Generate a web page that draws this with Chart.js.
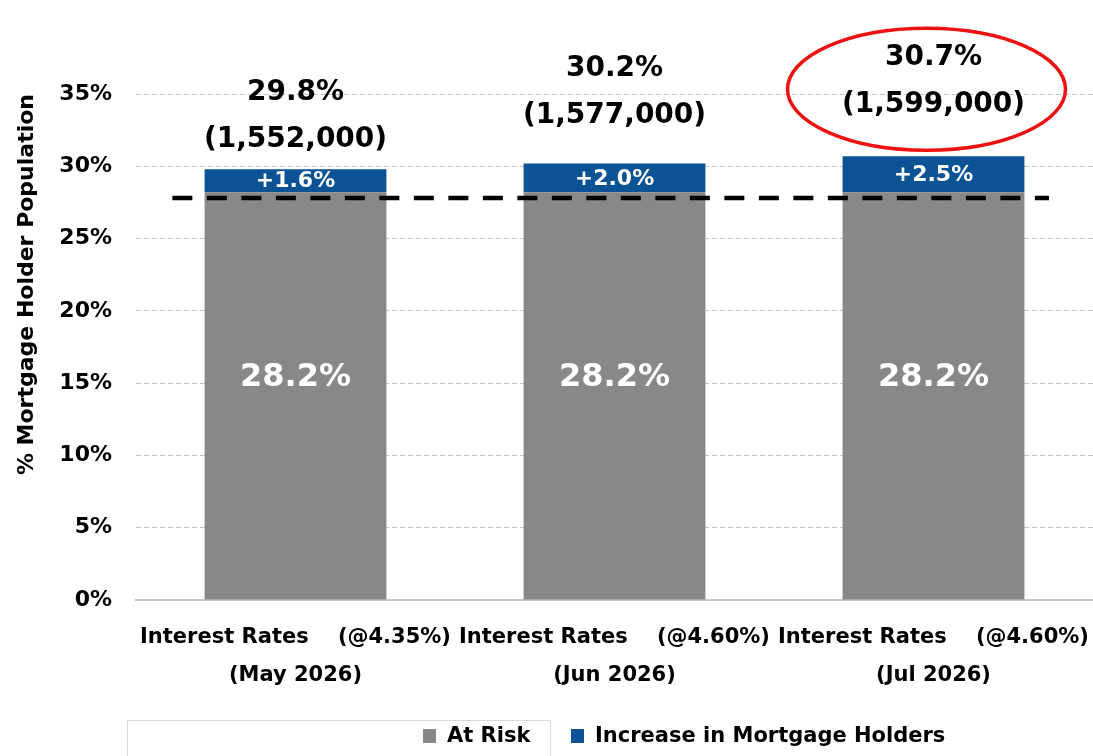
<!DOCTYPE html>
<html>
<head>
<meta charset="utf-8">
<script src="https://cdn.jsdelivr.net/npm/chart.js@4/dist/chart.umd.min.js"></script>
<style>
  html, body { margin: 0; padding: 0; background: #ffffff; }
  #wrap { width: 1093px; height: 756px; position: relative; }
</style>
</head>
<body>
<div id="wrap"><canvas id="c"></canvas></div>
<script>
// ---- data ----
const categoryLine1 = ["Interest Rates    (@4.35%)", "Interest Rates    (@4.60%)", "Interest Rates    (@4.60%)"];
const categoryLine2 = ["(May 2026)", "(Jun 2026)", "(Jul 2026)"];
const atRisk = [28.2, 28.2, 28.2];
const increase = [1.6, 2.0, 2.5];
const totals = [29.8, 30.2, 30.7];
const holders = ["(1,552,000)", "(1,577,000)", "(1,599,000)"];
const thresholdValue = 27.8;
const thresholdSpan = [-0.386, 2.362];
const seriesNames = ["At Risk", "Increase in Mortgage Holders"];
const yMin = 0, yMax = 35, yStep = 5;
const highlightIndex = 2;

// ---- styles ----
const FONT = "'DejaVu Sans', sans-serif";
const GRAY = "#888888";
const BLUE = "#0B5394";

const labels = categoryLine1.map((l, i) => [l, categoryLine2[i]]);

const labelsPlugin = {
  id: 'customLabels',
  afterDatasetsDraw(chart) {
    const ctx = chart.ctx;
    const grayMeta = chart.getDatasetMeta(0);
    const blueMeta = chart.getDatasetMeta(1);
    const topOffsets = [29, 48, 51];
    ctx.save();
    ctx.textAlign = 'center';
    ctx.textBaseline = 'middle';
    grayMeta.data.forEach((bar, i) => {
      ctx.fillStyle = '#ffffff';
      ctx.font = "bold 32px " + FONT;
      ctx.fillText(atRisk[i].toFixed(1) + '%', bar.x, (bar.y + bar.base) / 2 - 18);
    });
    blueMeta.data.forEach((bar, i) => {
      ctx.fillStyle = '#ffffff';
      ctx.font = "bold 22px " + FONT;
      ctx.fillText('+' + increase[i].toFixed(1) + '%', bar.x, (bar.y + bar.base) / 2 + 1);
      const yTop = chart.scales.y.getPixelForValue(totals[i]);
      const y2 = yTop - topOffsets[i];
      const y1 = y2 - 47;
      ctx.fillStyle = '#000000';
      ctx.font = "bold 28px " + FONT;
      ctx.fillText(totals[i].toFixed(1) + '%', bar.x, y1);
      ctx.fillText(holders[i], bar.x, y2);
      if (i === highlightIndex) {
        ctx.beginPath();
        ctx.strokeStyle = '#EE1111';
        ctx.lineWidth = 3.5;
        ctx.ellipse(bar.x - 7, y1 + 31, 139, 61, 0, 0, Math.PI * 2);
        ctx.stroke();
      }
    });
    ctx.restore();
  },
  afterDraw(chart) {
    const ctx = chart.ctx;
    ctx.save();
    ctx.strokeStyle = '#d9d9d9';
    ctx.lineWidth = 1;
    ctx.strokeRect(127.5, 720.5, 423, 50);
    const items = [
      { label: seriesNames[0], color: GRAY, x: 423 },
      { label: seriesNames[1], color: BLUE, x: 571 }
    ];
    ctx.font = "bold 21px " + FONT;
    ctx.textBaseline = 'middle';
    ctx.textAlign = 'left';
    items.forEach(it => {
      ctx.fillStyle = it.color;
      ctx.fillRect(it.x, 729, 13, 14);
      ctx.fillStyle = '#000000';
      ctx.fillText(it.label, it.x + 24, 737);
    });
    ctx.restore();
  }
};

new Chart(document.getElementById('c'), {
  type: 'bar',
  data: {
    labels: labels,
    datasets: [
      {
        type: 'bar', label: seriesNames[0], data: atRisk,
        backgroundColor: GRAY, order: 2, grouped: false,
        barPercentage: 0.57, categoryPercentage: 1.0
      },
      {
        type: 'bar', label: seriesNames[1], data: increase,
        backgroundColor: BLUE, order: 2, grouped: false,
        barPercentage: 0.57, categoryPercentage: 1.0
      },
      {
        type: 'line', label: 'threshold', xAxisID: 'x2', order: 0,
        data: thresholdSpan.map(x => ({ x: x, y: thresholdValue })),
        borderColor: '#000000', borderWidth: 4.5, borderDash: [20, 14.5],
        pointRadius: 0, fill: false, tension: 0
      }
    ]
  },
  options: {
    responsive: true,
    maintainAspectRatio: false,
    animation: false,
    layout: { padding: { top: 94, left: 0, right: 0, bottom: 56 } },
    plugins: { legend: { display: false }, tooltip: { enabled: false } },
    scales: {
      x: {
        type: 'category', stacked: true, offset: true,
        grid: { display: false, drawTicks: false },
        border: { display: true, color: '#c8c8c8', width: 2 },
        ticks: {
          color: '#000000', padding: 19, maxRotation: 0, autoSkip: false,
          font: { family: FONT, size: 21, weight: 'bold', lineHeight: 1.8 }
        },
        afterFit(scale) { scale.height = 100; scale.paddingLeft = 0; scale.paddingRight = 0; }
      },
      x2: {
        type: 'linear', display: false, min: -0.5, max: 2.5, offset: false,
        grid: { offset: false },
        afterFit(scale) { scale.paddingLeft = 0; scale.paddingRight = 0; }
      },
      y: {
        stacked: true, min: yMin, max: yMax,
        grid: { color: '#c4c4c4', lineWidth: 1, drawTicks: false },
        border: { display: false, dash: [5, 3] },
        ticks: {
          stepSize: yStep, color: '#000000', padding: 24,
          font: { family: FONT, size: 22, weight: 'bold' },
          callback: v => v + '%'
        },
        title: {
          display: true, text: '% Mortgage Holder Population', align: 'end',
          color: '#000000', padding: { top: 14, bottom: 0 },
          font: { family: FONT, size: 22, weight: 'bold' }
        },
        afterFit(scale) { scale.width = 136; }
      }
    }
  },
  plugins: [labelsPlugin]
});
</script>
</body>
</html>
